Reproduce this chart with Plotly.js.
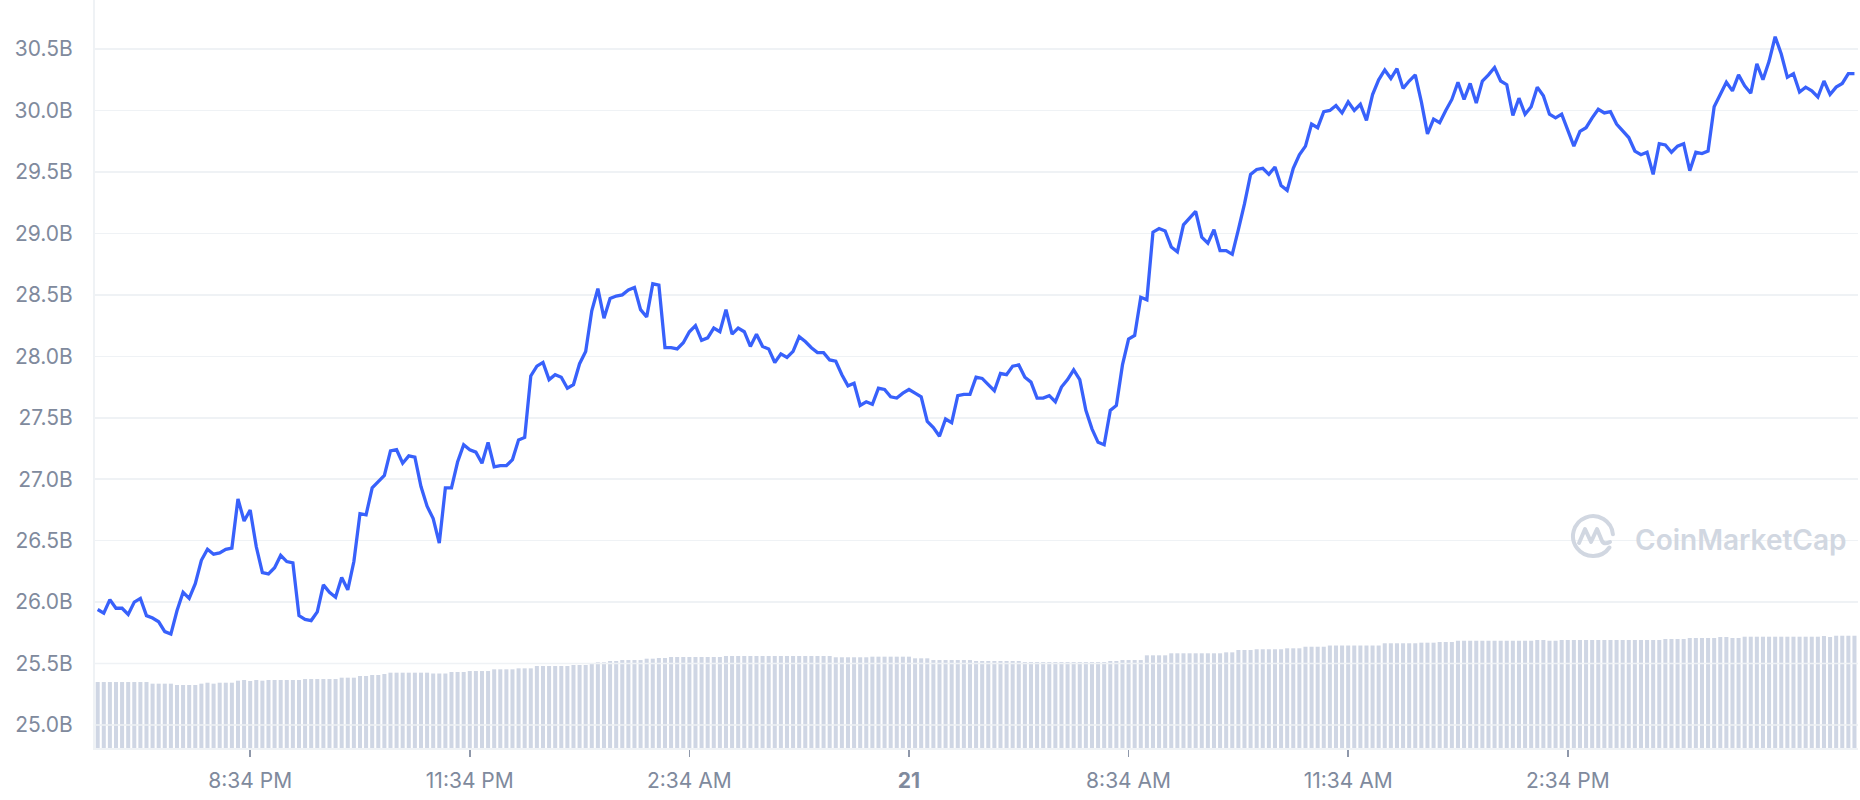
<!DOCTYPE html>
<html>
<head>
<meta charset="utf-8">
<script src="https://cdn.plot.ly/plotly-3.0.1.min.js"></script>
<style>
  html, body { margin: 0; padding: 0; background: #ffffff; }
  #chart { width: 1860px; height: 800px; }
</style>
</head>
<body>
<div id="chart"></div>
<script>
// ---- Data ----
const startTime = '2023-03-20T18:29:00Z';   // first 5-minute sample
const stepMinutes = 5;

// Market cap, in billions USD (289 five-minute samples)
const marketCapB = [
  25.94, 25.91, 26.02, 25.95, 25.95, 25.90, 26.00, 26.03, 25.89, 25.87,
  25.84, 25.76, 25.74, 25.93, 26.08, 26.03, 26.15, 26.34, 26.43, 26.39,
  26.40, 26.43, 26.44, 26.84, 26.66, 26.75, 26.45, 26.24, 26.23, 26.28,
  26.38, 26.33, 26.32, 25.89, 25.86, 25.85, 25.92, 26.14, 26.08, 26.04,
  26.20, 26.10, 26.33, 26.72, 26.71, 26.93, 26.98, 27.03, 27.23, 27.24,
  27.13, 27.19, 27.18, 26.94, 26.78, 26.68, 26.48, 26.93, 26.93, 27.14,
  27.28, 27.24, 27.22, 27.13, 27.30, 27.10, 27.11, 27.11, 27.16, 27.32,
  27.34, 27.84,
  27.92, 27.95, 27.81, 27.85, 27.83, 27.74, 27.77, 27.94, 28.04, 28.37,
  28.55, 28.31, 28.47, 28.49, 28.50, 28.54, 28.56, 28.38, 28.32, 28.59,
  28.58, 28.07, 28.07, 28.06, 28.11, 28.20, 28.25, 28.13, 28.15, 28.23,
  28.20, 28.38, 28.18, 28.23, 28.20, 28.08, 28.18, 28.08, 28.06, 27.95,
  28.02, 27.99, 28.04, 28.16, 28.12, 28.07, 28.03, 28.03, 27.97, 27.96,
  27.85, 27.76, 27.78, 27.60, 27.63, 27.61, 27.74, 27.73, 27.67, 27.66,
  27.70, 27.73, 27.70, 27.67, 27.47, 27.42, 27.35, 27.49, 27.46, 27.68,
  27.69, 27.69,
  27.83, 27.82, 27.77, 27.72, 27.86, 27.85, 27.92, 27.93, 27.83, 27.79,
  27.66, 27.66, 27.68, 27.63, 27.75, 27.81, 27.89, 27.81, 27.56, 27.41,
  27.30, 27.28, 27.56, 27.60, 27.93, 28.14, 28.17, 28.48, 28.46, 29.01,
  29.04, 29.02, 28.89, 28.85, 29.07, 29.13, 29.18, 28.97, 28.92, 29.03,
  28.86, 28.86, 28.83, 29.03, 29.24, 29.48, 29.52, 29.53, 29.48, 29.54,
  29.39, 29.35, 29.53, 29.64, 29.71, 29.89, 29.86, 29.99, 30.00, 30.04,
  29.98, 30.07, 30.00, 30.05, 29.92, 30.13, 30.25, 30.33, 30.26, 30.34,
  30.18, 30.24,
  30.29, 30.07, 29.81, 29.93, 29.90, 30.00, 30.09, 30.23, 30.09, 30.22,
  30.06, 30.24, 30.29, 30.35, 30.24, 30.21, 29.96, 30.10, 29.97, 30.03,
  30.19, 30.12, 29.97, 29.94, 29.97, 29.84, 29.71, 29.83, 29.86, 29.94,
  30.01, 29.98, 29.99, 29.89, 29.83, 29.78, 29.67, 29.64, 29.66, 29.48,
  29.73, 29.72, 29.66, 29.71, 29.73, 29.51, 29.66, 29.65, 29.67, 30.03,
  30.13, 30.23, 30.16, 30.29, 30.20, 30.14, 30.38, 30.25, 30.40, 30.60,
  30.46, 30.27, 30.30, 30.15, 30.19, 30.16, 30.11, 30.24, 30.13, 30.19,
  30.22, 30.30, 30.30
];

// Volume bars, relative units (289 samples)
const volume = [
  0.882, 0.882, 0.882, 0.882, 0.882, 0.882, 0.882, 0.882, 0.882,
  0.860, 0.860, 0.860, 0.860,
  0.842, 0.842, 0.842, 0.842,
  0.860, 0.873, 0.860, 0.873, 0.873, 0.873, 0.900, 0.909, 0.896, 0.909, 0.900,
  0.909, 0.909, 0.909, 0.909, 0.909, 0.909,
  0.922, 0.922, 0.922, 0.922, 0.922, 0.922,
  0.940, 0.940, 0.940, 0.963, 0.963, 0.976, 0.976, 0.989,
  1.007, 1.007, 1.007, 1.007, 1.007, 1.007, 1.007,
  0.996, 0.996, 0.996, 1.016, 1.016, 1.016,
  1.029, 1.029, 1.029, 1.029, 1.052, 1.052, 1.052, 1.052,
  1.065, 1.065, 1.065, 1.096, 1.096, 1.096, 1.096, 1.096, 1.096,
  1.110, 1.110, 1.110, 1.130, 1.146, 1.146, 1.163, 1.163,
  1.176, 1.176, 1.176, 1.176, 1.194, 1.194, 1.203, 1.203,
  1.217, 1.217, 1.217, 1.217, 1.217, 1.217, 1.217, 1.217, 1.217,
  1.230, 1.230, 1.230, 1.230, 1.230, 1.230, 1.230, 1.230, 1.230,
  1.230, 1.230, 1.230, 1.230, 1.230, 1.230, 1.230, 1.230, 1.230,
  1.213, 1.213, 1.213, 1.213, 1.213, 1.213,
  1.221, 1.221, 1.221, 1.221, 1.221, 1.221, 1.221,
  1.199, 1.199, 1.199,
  1.176, 1.176, 1.176, 1.176, 1.176, 1.176, 1.176,
  1.163, 1.163, 1.163, 1.163, 1.163, 1.163, 1.163, 1.163,
  1.150, 1.150, 1.150, 1.150, 1.150, 1.150, 1.150,
  1.150, 1.150, 1.150, 1.150, 1.150, 1.150, 1.150,
  1.163, 1.163, 1.176, 1.176, 1.176, 1.176,
  1.239, 1.239, 1.239, 1.239,
  1.266, 1.266, 1.266, 1.266, 1.266, 1.266, 1.266, 1.266, 1.266,
  1.279, 1.279, 1.310, 1.310, 1.310,
  1.320, 1.320, 1.320, 1.320, 1.320, 1.333, 1.333, 1.333,
  1.354, 1.354, 1.354, 1.354,
  1.370, 1.370, 1.370, 1.370, 1.370, 1.370, 1.370, 1.370, 1.370,
  1.400, 1.400, 1.400, 1.400, 1.400, 1.400,
  1.408, 1.408, 1.408, 1.417, 1.417, 1.417,
  1.434, 1.434, 1.434, 1.434, 1.434, 1.434, 1.434, 1.434, 1.434, 1.434, 1.434, 1.434, 1.434,
  1.444, 1.444, 1.434, 1.434,
  1.444, 1.444, 1.444, 1.444, 1.444, 1.444, 1.444, 1.444, 1.444,
  1.444, 1.444, 1.444, 1.444, 1.444, 1.444, 1.444, 1.444,
  1.457, 1.457, 1.457, 1.457,
  1.471, 1.471, 1.471, 1.471, 1.471,
  1.484, 1.484, 1.471, 1.471,
  1.488, 1.488, 1.488, 1.488, 1.488, 1.488, 1.488, 1.488, 1.488, 1.488, 1.488, 1.488, 1.488,
  1.497, 1.484, 1.501, 1.501, 1.501, 1.501
];

// Axis ticks
const xTickVals = ['2023-03-20 20:34', '2023-03-20 23:34', '2023-03-21 02:34', '2023-03-21 05:34',
                   '2023-03-21 08:34', '2023-03-21 11:34', '2023-03-21 14:34'];
const xTickText = ['8:34 PM', '11:34 PM', '2:34 AM', '<b>21</b>', '8:34 AM', '11:34 AM', '2:34 PM'];
const yTickVals = [25.0, 25.5, 26.0, 26.5, 27.0, 27.5, 28.0, 28.5, 29.0, 29.5, 30.0, 30.5];
const yTickText = ['25.0B', '25.5B', '26.0B', '26.5B', '27.0B', '27.5B', '28.0B', '28.5B', '29.0B', '29.5B', '30.0B', '30.5B'];

// ---- Build time categories ----
const t0 = Date.parse(startTime);
const times = marketCapB.map((_, i) =>
  new Date(t0 + i * stepMinutes * 60000).toISOString().slice(0, 19).replace('T', ' '));

const labelColor = '#808A9D';
const gridColor = '#EFF2F5';
const fontFamily = 'Inter, "Noto Sans", sans-serif';

const traces = [
  {
    type: 'bar',
    x: times,
    y: volume,
    yaxis: 'y2',
    marker: { color: '#CFD6E4', line: { width: 0 } },
    hoverinfo: 'skip',
    showlegend: false
  },
  {
    type: 'scatter',
    mode: 'lines',
    x: times,
    y: marketCapB,
    yaxis: 'y',
    line: { color: '#3861FB', width: 3.3, shape: 'linear' },
    showlegend: false
  }
];

// gridlines that run across the volume bars are drawn on top of them
const gridOverBars = yTickVals.filter(v => v < 25.7).map(v => ({
  type: 'line', xref: 'paper', x0: 0, x1: 1, yref: 'y', y0: v, y1: v,
  line: { color: gridColor, width: 1.5 }, layer: 'above'
}));

const logoSvg =
  '<svg xmlns="http://www.w3.org/2000/svg" width="48" height="48" viewBox="0 0 48 48">' +
  '<path d="M40.4 35.5 A20 20 0 1 1 43.9 22.3" fill="none" stroke="#D1D7E1" stroke-width="4" stroke-linecap="round"/>' +
  '<path d="M10 31 L16 17 L22 30 L28 17 L33 29 Q35 33 41 30" fill="none" stroke="#D1D7E1" stroke-width="4" stroke-linecap="round" stroke-linejoin="round"/>' +
  '</svg>';

const layout = {
  width: 1860,
  height: 800,
  margin: { l: 95, r: 2, t: 0, b: 52 },
  paper_bgcolor: '#ffffff',
  plot_bgcolor: '#ffffff',
  bargap: 0.34,
  font: { family: fontFamily, color: labelColor, size: 21 },
  xaxis: {
    type: 'date',
    range: ['2023-03-20 18:26:48', '2023-03-21 18:31:54'],
    tickmode: 'array',
    tickvals: xTickVals,
    ticktext: xTickText,
    ticks: 'outside',
    ticklen: 7,
    tickwidth: 1.5,
    tickcolor: '#8F98AA',
    ticklabelstandoff: 6,
    showgrid: false,
    zeroline: false,
    showline: true,
    linecolor: gridColor,
    linewidth: 2,
    tickfont: { family: fontFamily, size: 21, color: labelColor },
    fixedrange: true
  },
  yaxis: {
    range: [24.813, 30.899],
    tickmode: 'array',
    tickvals: yTickVals,
    ticktext: yTickText,
    ticks: '',
    ticklabelstandoff: 16,
    showgrid: true,
    gridcolor: gridColor,
    gridwidth: 1.5,
    zeroline: false,
    showline: true,
    linecolor: gridColor,
    linewidth: 2,
    tickfont: { family: fontFamily, size: 21, color: labelColor },
    fixedrange: true
  },
  yaxis2: {
    overlaying: 'y',
    side: 'right',
    range: [0, 10],
    visible: false,
    showgrid: false,
    zeroline: false,
    fixedrange: true
  },
  shapes: gridOverBars,
  images: [{
    source: 'data:image/svg+xml;charset=utf-8,' + encodeURIComponent(logoSvg),
    xref: 'paper', yref: 'paper',
    x: 0.8497, y: 0.2834,
    sizex: 0.0272, sizey: 0.0642,
    xanchor: 'center', yanchor: 'middle',
    layer: 'above'
  }],
  annotations: [{
    text: 'CoinMarketCap',
    xref: 'paper', yref: 'paper',
    x: 0.8724, y: 0.278,
    xanchor: 'left', yanchor: 'middle',
    showarrow: false,
    font: { family: fontFamily, size: 28, color: '#D1D7E1', weight: 600 }
  }]
};

Plotly.newPlot('chart', traces, layout, { displayModeBar: false, staticPlot: true });
</script>
</body>
</html>
